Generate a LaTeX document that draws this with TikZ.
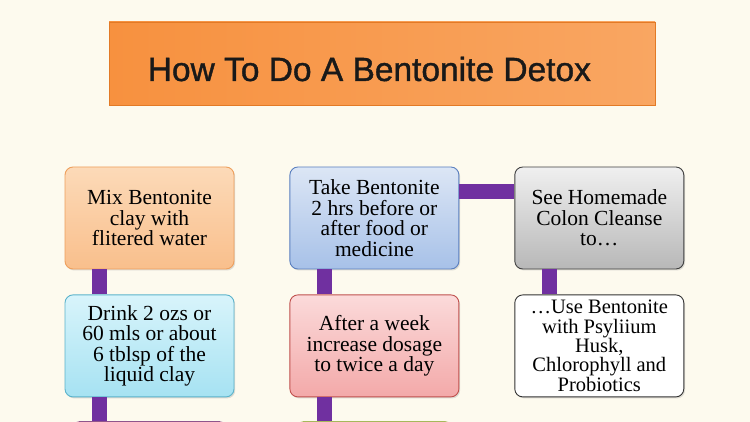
\documentclass[tikz,border=0pt]{standalone}
\usepackage{fontspec}
\setmainfont{Liberation Serif}
\newfontfamily\headfont[FakeBold=1.2]{Liberation Sans}
\usetikzlibrary{positioning, shadows}

\definecolor{paper}{HTML}{FDFAEE}
\definecolor{linkpurple}{HTML}{7030A0}
\definecolor{headleft}{HTML}{F7913F}
\definecolor{headright}{HTML}{F9A662}
\definecolor{headline}{HTML}{E27A26}
\definecolor{mixtop}{HTML}{FCDAB8}
\definecolor{mixbot}{HTML}{F9BF8C}
\definecolor{mixline}{HTML}{EE9F5C}
\definecolor{drinktop}{HTML}{D8F4FB}
\definecolor{drinkbot}{HTML}{A6E2F2}
\definecolor{drinkline}{HTML}{5BB3CB}
\definecolor{taketop}{HTML}{DCE6F5}
\definecolor{takebot}{HTML}{A7C1E8}
\definecolor{takeline}{HTML}{5A7FBF}
\definecolor{aftertop}{HTML}{FBDADA}
\definecolor{afterbot}{HTML}{F3A9A9}
\definecolor{afterline}{HTML}{C0504D}

\begin{document}
\begin{tikzpicture}[
  x=1pt, y=-1pt,
  node distance=25pt and 55pt,
  stepbox/.style={rectangle, rounded corners=8pt, line width=0.9pt,
    minimum width=169pt, minimum height=102pt, inner sep=2pt,
    align=center, font=\fontsize{21.5}{20.5}\selectfont,
    drop shadow={shadow xshift=1.2pt, shadow yshift=-1.5pt, opacity=0.25}},
  headbox/.style={rectangle, draw=headline, line width=0.8pt,
    left color=headleft, right color=headright,
    minimum width=546pt, minimum height=83pt},
  headtext/.style={font=\headfont\fontsize{33.5}{36}\selectfont,
    text=black!90, inner sep=0pt},
  link/.style={draw=linkpurple, line width=15pt}
]
  \fill[paper, use as bounding box] (0,0) rectangle (750,422);

  % title
  \node[headbox] (head) at (382,63.5) {};
  \node[headtext, anchor=west] (headtext) at ([xshift=39pt,yshift=-5.5pt]head.west)
    {How To Do A Bentonite Detox};

  % first column
  \node[stepbox, draw=mixline, top color=mixtop, bottom color=mixbot]
    (mix) at (149.5,218) {Mix Bentonite\\clay with\\flitered water};
  \node[stepbox, draw=drinkline, top color=drinktop, bottom color=drinkbot,
    below=of mix] (drink) {Drink 2 ozs or\\60 mls or about\\6 tblsp of the\\liquid clay};
  \node[stepbox, draw=violet!70!black, fill=violet!25, minimum width=155pt,
    below=24pt of drink] (nextleft) {};

  % second column
  \node[stepbox, draw=takeline, top color=taketop, bottom color=takebot,
    right=of mix] (take) {Take Bentonite\\2 hrs before or\\after food or\\medicine};
  \node[stepbox, draw=afterline, top color=aftertop, bottom color=afterbot,
    below=of take] (after) {After a week\\increase dosage\\to twice a day};
  \node[stepbox, draw=olive!70!green, fill=olive!20, minimum width=157pt,
    below=24pt of after] (nextmid) {};

  % third column
  \node[stepbox, draw=black!75, top color=black!6, bottom color=black!28,
    right=55pt of take] (colon) {See Homemade\\Colon Cleanse\\to\dots};
  \node[stepbox, draw=black!80, fill=white, font=\fontsize{20.5}{19.3}\selectfont,
    below=of colon] (psyllium) {\dots Use Bentonite\\with Psyliium\\Husk,\\Chlorophyll and\\Probiotics};

  % links
  \draw[link] ([xshift=-50pt]mix.south) -- ([xshift=-50pt]drink.north);
  \draw[link] ([xshift=-50pt]drink.south) -- ([xshift=-50pt]nextleft.north);
  \draw[link] ([xshift=-50pt]take.south) -- ([xshift=-50pt]after.north);
  \draw[link] ([xshift=-50pt]after.south) -- ([xshift=-50pt]nextmid.north);
  \draw[link] ([yshift=26pt]take.east) -- ([yshift=26pt]colon.west);
  \draw[link] ([xshift=-50pt]colon.south) -- ([xshift=-50pt]psyllium.north);
\end{tikzpicture}
\end{document}
